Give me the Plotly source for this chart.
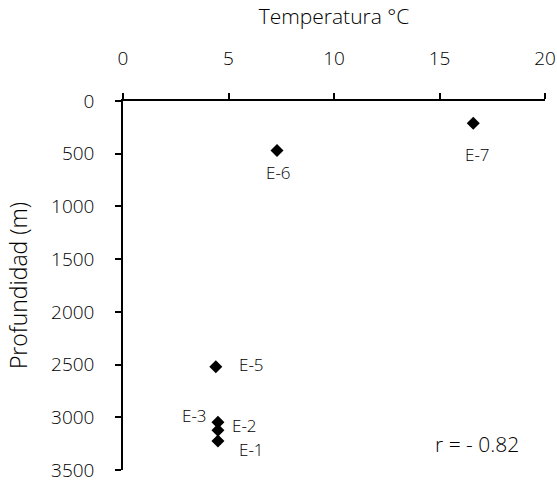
import plotly.graph_objects as go

names = ["E-1", "E-2", "E-3", "E-5", "E-6", "E-7"]
temperatura = [4.5, 4.5, 4.5, 4.4, 7.3, 16.6]
profundidad = [3226, 3122, 3046, 2520, 470, 210]
x_ticks = [0, 5, 10, 15, 20]
y_ticks = [0, 500, 1000, 1500, 2000, 2500, 3000, 3500]

# label offsets (pixels) per station
label_shift = {
    "E-1": (19, -8, "left"),
    "E-2": (12, 5, "left"),
    "E-3": (-9, 7, "right"),
    "E-5": (21, 2, "left"),
    "E-6": (1, -22, "center"),
    "E-7": (4, -31, "center"),
}

FONT = "Open Sans, Lato, sans-serif"
INK = "#000000"

fig = go.Figure()
fig.add_trace(go.Scatter(
    x=temperatura, y=profundidad, mode="markers",
    marker=dict(symbol="diamond", size=10, color="black"),
    showlegend=False, hoverinfo="skip",
))

for n, t, d in zip(names, temperatura, profundidad):
    dx, dy, anc = label_shift[n]
    fig.add_annotation(x=t, y=d, text=n, showarrow=False, xshift=dx, yshift=dy,
                       xanchor=anc, font=dict(family=FONT, size=17, color=INK, weight=300))

fig.add_annotation(x=16.8, y=3250, text="r = - 0.82", showarrow=False,
                   xanchor="center", font=dict(family=FONT, size=21, color=INK, weight=300))

fig.update_layout(
    width=557, height=487,
    margin=dict(l=123, r=12, t=101, b=17),
    paper_bgcolor="white", plot_bgcolor="white",
    font=dict(family=FONT, size=19, color=INK, weight=300),
    xaxis=dict(
        side="top", range=[0, 20], tickvals=x_ticks, automargin=False,
        showgrid=False, zeroline=False, showline=True, linecolor="black", linewidth=2,
        ticks="outside", ticklen=6, tickcolor="black", tickwidth=1.5, ticklabelstandoff=20,
        title=dict(text="Temperatura °C", standoff=15,
                   font=dict(size=21, weight=300)),
        tickfont=dict(size=19, weight=300),
    ),
    yaxis=dict(
        range=[3500, 0], tickvals=y_ticks, automargin=False,
        showgrid=False, zeroline=False, showline=True, linecolor="black", linewidth=1.5,
        ticks="outside", ticklen=6, tickcolor="black", tickwidth=1.5, ticklabelstandoff=17,
        title=dict(text="Profundidad (m)", standoff=17,
                   font=dict(size=23, weight=300)),
        tickfont=dict(size=19, weight=300),
    ),
)

fig.write_html("out.html")
